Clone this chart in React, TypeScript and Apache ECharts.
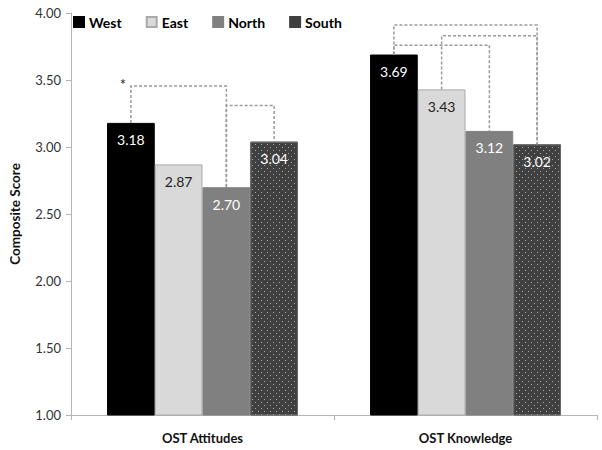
import React, { useEffect, useRef } from "react";
import * as echarts from "echarts";

const categories = ["OST Attitudes", "OST Knowledge"];
const seriesNames = ["West", "East", "North", "South"];
const westValues = [3.18, 3.69];
const eastValues = [2.87, 3.43];
const northValues = [2.7, 3.12];
const southValues = [3.04, 3.02];
const yTicks = [1.0, 1.5, 2.0, 2.5, 3.0, 3.5, 4.0];
// brackets: [categoryIndex, fromBar, toBar, level, star]
const brackets: [number, number, number, number, number][] = [
  [0, 0, 2, 3.455, 1],
  [0, 2, 3, 3.31, 0],
  [1, 0, 3, 3.91, 0],
  [1, 1, 3, 3.83, 0],
  [1, 0, 2, 3.76, 0],
];

const FONT = "Lato, 'Open Sans', sans-serif";
const allValues = [westValues, eastValues, northValues, southValues];
const colors = ["#000000", "#d9d9d9", "#808080", "#404040"];
const labelColors = ["#ffffff", "#222222", "#ffffff", "#ffffff"];
const GAP = 0.274;

export default function App() {
  const ref = useRef<HTMLDivElement>(null);
  useEffect(() => {
    if (!ref.current) return;
    document.body.style.margin = "0";
    const chart = echarts.init(ref.current, undefined, { renderer: "svg" });
    const barSeries = seriesNames.map((name, i) => ({
      name,
      type: "bar",
      data: allValues[i],
      barGap: "0%",
      barCategoryGap: GAP * 100 + "%",
      itemStyle: {
        color: colors[i],
        borderColor: i === 1 ? "#aaaaaa" : i === 3 ? "#666666" : colors[i],
        borderWidth: 1,
        decal:
          i === 3
            ? {
                symbol: "rect",
                symbolSize: 1,
                color: "rgba(255,255,255,0.55)",
                dashArrayX: [
                  [1, 5],
                  [0, 3, 1, 2],
                ],
                dashArrayY: [1, 2],
                rotation: 0,
              }
            : undefined,
      },
      label: {
        show: true,
        position: "insideTop",
        distance: 10,
        color: labelColors[i],
        fontSize: 14,
        fontFamily: FONT,
        formatter: (p: any) => Number(p.value).toFixed(2),
      },
    }));

    const custom = {
      type: "custom",
      silent: true,
      clip: false,
      z: 5,
      data: brackets,
      encode: { x: 0, y: 3 },
      renderItem: (params: any, api: any) => {
        const cat = api.value(0);
        const from = api.value(1);
        const to = api.value(2);
        const level = api.value(3);
        const star = api.value(4);
        const band = api.size([1, 0])[0];
        const bw = (band * (1 - GAP)) / 4;
        const center = api.coord([cat, level]);
        const xOf = (i: number) => center[0] - (band * (1 - GAP)) / 2 + bw * (i + 0.5);
        const x1 = xOf(from);
        const x2 = xOf(to);
        const y1 = api.coord([cat, allValues[from][cat]])[1];
        const y2 = api.coord([cat, allValues[to][cat]])[1];
        const yl = center[1];
        const children: any[] = [
          {
            type: "polyline",
            shape: { points: [[x1, y1], [x1, yl], [x2, yl], [x2, y2]] },
            style: { stroke: "#9a9a9a", lineWidth: 1.5, lineDash: [3, 2], fill: "none" },
          },
        ];
        if (star) {
          children.push({
            type: "text",
            style: {
              text: "*",
              x: x1 - 8,
              y: yl - 2,
              fill: "#222",
              fontSize: 15,
              fontFamily: FONT,
              align: "center",
              verticalAlign: "middle",
            },
          });
        }
        return { type: "group", children };
      },
    };

    chart.setOption({
      animation: false,
      textStyle: { fontFamily: FONT },
      grid: { left: 65, right: 5, top: 13, bottom: 35 },
      legend: {
        data: seriesNames.map((n, i) => ({
          name: n,
          icon: "rect",
          itemStyle: { color: colors[i], decal: "none", borderColor: i === 1 ? "#aaaaaa" : colors[i] },
        })),
        left: 68,
        top: 10,
        itemWidth: 10,
        itemHeight: 10,
        itemGap: 24,
        textStyle: { fontSize: 14, fontWeight: "bold", color: "#000", fontFamily: FONT },
      },
      xAxis: {
        type: "category",
        data: categories,
        axisLine: { lineStyle: { color: "#b5b5b5" } },
        axisTick: { show: true, length: 5, lineStyle: { color: "#b5b5b5" } },
        axisLabel: {
          margin: 16,
          fontSize: 13,
          fontWeight: "bold",
          color: "#111",
          fontFamily: FONT,
        },
      },
      yAxis: {
        type: "value",
        min: yTicks[0],
        max: yTicks[yTicks.length - 1],
        interval: 0.5,
        name: "Composite Score",
        nameLocation: "middle",
        nameGap: 49,
        nameTextStyle: { fontSize: 13.5, fontWeight: "bold", color: "#111", fontFamily: FONT },
        axisLine: { show: true, lineStyle: { color: "#b5b5b5" } },
        axisTick: { show: true, length: 5, lineStyle: { color: "#b5b5b5" } },
        splitLine: { show: false },
        axisLabel: {
          margin: 10,
          fontSize: 13,
          color: "#333",
          fontFamily: FONT,
          formatter: (v: number) => v.toFixed(2),
        },
      },
      series: [...barSeries, custom],
    });
    return () => chart.dispose();
  }, []);
  return <div ref={ref} style={{ width: 602, height: 450 }} />;
}
